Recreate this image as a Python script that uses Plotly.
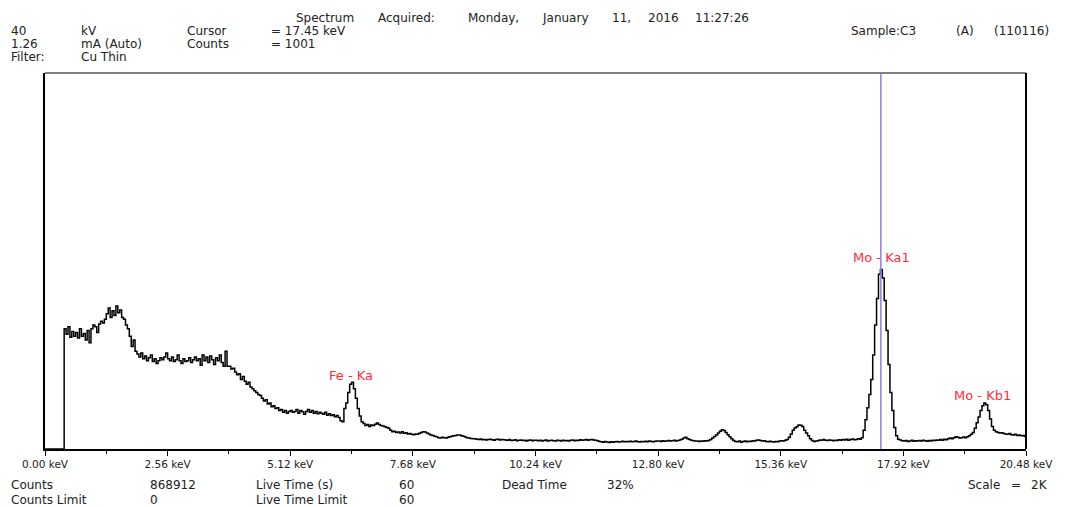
import plotly.graph_objects as go

# ---------------- data ----------------
CHANNEL_KEV = 0.04          # channel width of the spectrum
FULL_SCALE_KEV = 20.48
Y_FULL_SCALE = 2000         # "Scale = 2K"

COUNTS = [
    0, 0, 0, 0, 0, 0, 0, 0, 0, 0, 640, 610, 650, 595, 625, 600,
    620, 590, 640, 600, 615, 580, 630, 565, 640, 660, 650, 620, 665, 680, 670, 690,
    720, 750, 700, 735, 710, 760, 725, 740, 700, 690, 660, 640, 600, 545, 580, 520,
    505, 490, 510, 480, 495, 470, 485, 500, 465, 480, 455, 470, 485, 475, 490, 510,
    480, 470, 490, 465, 475, 500, 470, 455, 480, 465, 470, 485, 460, 475, 490, 470,
    480, 445, 500, 470, 490, 460, 495, 475, 450, 485, 470, 500, 460, 440, 520, 440,
    440, 425, 430, 410, 395, 400, 370, 385, 360, 345, 355, 330, 320, 310, 300, 290,
    285, 270, 255, 262, 240, 245, 225, 230, 215, 220, 205, 210, 195, 205, 190, 200,
    205, 195, 200, 210, 190, 205, 198, 185, 200, 210, 195, 205, 190, 200, 188, 195,
    190, 185, 195, 180, 188, 178, 182, 172, 178, 168, 150, 145, 215, 245, 300, 345,
    355, 320, 270, 215, 175, 145, 135, 125, 130, 120, 128, 125, 132, 138, 130, 125,
    122, 118, 115, 110, 100, 92, 95, 88, 90, 85, 92, 84, 86, 80, 82, 78,
    76, 80, 78, 84, 88, 92, 90, 85, 80, 74, 72, 68, 65, 60, 58, 62,
    60, 58, 62, 65, 68, 70, 72, 75, 74, 70, 68, 64, 60, 58, 56, 55,
    54, 52, 50, 53, 49, 51, 48, 50, 52, 49, 47, 50, 52, 48, 50, 49,
    48, 46, 50, 45, 47, 49, 44, 46, 48, 45, 47, 43, 46, 48, 44, 47,
    46, 44, 47, 42, 45, 48, 43, 45, 47, 44, 42, 46, 45, 43, 47, 44,
    45, 43, 46, 48, 44, 47, 45, 49, 46, 48, 50, 47, 49, 51, 48, 46,
    44, 40, 38, 36, 40, 37, 35, 39, 36, 38, 40, 37, 39, 41, 38, 40,
    39, 41, 38, 40, 42, 39, 37, 40, 38, 41, 39, 42, 40, 38, 41, 43,
    42, 40, 44, 41, 43, 45, 42, 44, 46, 43, 45, 48, 52, 58, 62, 55,
    50, 46, 44, 42, 43, 40, 42, 41, 44, 42, 45, 50, 58, 66, 75, 85,
    95, 102, 98, 88, 76, 65, 55, 45, 40, 38, 42, 36, 40, 43, 38, 41,
    40, 44, 42, 46, 48, 45, 42, 44, 40, 38, 41, 39, 37, 40, 38, 42,
    44, 42, 46, 50, 62, 80, 100, 112, 118, 128, 126, 120, 100, 85, 70, 55,
    45, 40, 42, 44, 48, 46, 50, 47, 45, 48, 46, 44, 47, 45, 49, 46,
    50, 48, 52, 47, 50, 53, 49, 51, 55, 52, 60, 100, 155, 220, 290, 370,
    500, 660, 800, 930, 955, 910, 790, 630, 450, 300, 205, 115, 70, 52, 48, 44,
    42, 45, 40, 43, 46, 41, 44, 42, 45, 43, 47, 44, 41, 45, 43, 46,
    45, 48, 46, 50, 47, 52, 49, 55, 58, 54, 60, 65, 62, 58, 60, 64,
    60, 65, 70, 78, 88, 110, 140, 170, 205, 230, 245, 235, 205, 160, 120, 100,
    92, 88, 85, 86, 82, 80, 78, 82, 76, 75, 78, 72, 74, 70, 72, 68,
]

TICK_KEV = [0.00, 2.56, 5.12, 7.68, 10.24, 12.80, 15.36, 17.92, 20.48]
TICK_LABELS = ["0.00 keV", "2.56 keV", "5.12 keV", "7.68 keV", "10.24 keV",
               "12.80 keV", "15.36 keV", "17.92 keV", "20.48 keV"]
MINOR_TICK_KEV = [1.28, 3.84, 6.40, 8.96, 11.52, 14.08, 16.64, 19.20]

PEAK_NAMES = ["Fe - Ka", "Mo - Ka1", "Mo - Kb1"]
PEAK_KEV = [6.38, 17.46, 19.58]
CURSOR_KEV = 17.45

HEADER_TEXT = ["Spectrum", "Acquired:", "Monday,", "January", "11,", "2016", "11:27:26",
               "40", "kV", "Cursor", "= 17.45 keV", "Sample:C3", "(A)", "(110116)",
               "1.26", "mA (Auto)", "Counts", "= 1001",
               "Filter:", "Cu Thin"]
FOOTER_TEXT = ["Counts", "868912", "Live Time (s)", "60", "Dead Time", "32%",
               "Scale", "=", "2K",
               "Counts Limit", "0", "Live Time Limit", "60"]

# ---------------- layout constants (pixels) ----------------
W, H = 1067, 507
PL, PR, PT, PB = 45, 1026, 73, 449

HEADER_POS = [(295, 18), (377, 18), (467, 18), (541, 18), (611, 18), (647, 18), (694, 18),
              (10, 31), (80, 31), (186, 31), (270, 31), (850, 31), (955, 31), (993, 31),
              (10, 44), (80, 44), (186, 44), (270, 44),
              (10, 57.5), (80, 57.5)]
FOOTER_POS = [(10, 485), (149, 485), (255, 485), (398, 485), (501, 485), (606, 485),
              (967, 485), (1010, 485), (1030, 485),
              (10, 500), (149, 500), (255, 500), (398, 500)]
PEAK_LABEL_Y = [390, 1016, 287]


def px_to_paper(x, y):
    return (x - PL) / (PR - PL), (PB - y) / (PB - PT)


energies = [i * CHANNEL_KEV for i in range(len(COUNTS))] + [FULL_SCALE_KEV]
values = COUNTS + [COUNTS[-1]]

fig = go.Figure()
fig.add_trace(go.Scatter(
    x=energies, y=values, mode="lines", line_shape="hv",
    line=dict(color="black", width=1.5), hoverinfo="x+y", showlegend=False,
))

TEXT_FONT = dict(family="DejaVu Sans", size=12, color="#222222")
annotations = []
for txt, (x, y) in zip(HEADER_TEXT + FOOTER_TEXT, HEADER_POS + FOOTER_POS):
    px, py = px_to_paper(x, y)
    annotations.append(dict(text=txt, x=px, y=py, xref="paper", yref="paper",
                            xanchor="left", yanchor="middle", showarrow=False,
                            font=TEXT_FONT, borderpad=0))

for name, kev, ly in zip(PEAK_NAMES, PEAK_KEV, PEAK_LABEL_Y):
    annotations.append(dict(text=name, x=kev, y=ly, xref="x", yref="y",
                            xanchor="center", yanchor="middle", showarrow=False,
                            font=dict(family="DejaVu Sans", size=13, color="rgb(255,45,60)"),
                            borderpad=0))

shapes = [
    dict(type="line", xref="x", yref="paper", x0=CURSOR_KEV, x1=CURSOR_KEV, y0=0, y1=1,
         line=dict(color="rgb(130,130,235)", width=1.5), layer="above"),
    dict(type="line", xref="paper", yref="paper", x0=0, x1=1, y0=1, y1=1,
         line=dict(color="rgb(128,128,128)", width=2)),
    dict(type="line", xref="paper", yref="paper", x0=1, x1=1, y0=0, y1=1,
         line=dict(color="black", width=2)),
]

fig.update_layout(
    width=W, height=H, autosize=False,
    margin=dict(l=PL, r=W - PR, t=PT, b=H - PB, pad=0),
    paper_bgcolor="white", plot_bgcolor="white",
    annotations=annotations, shapes=shapes,
    xaxis=dict(
        range=[0, FULL_SCALE_KEV], tickmode="array", tickvals=TICK_KEV, ticktext=TICK_LABELS,
        ticks="outside", ticklen=5, tickwidth=1.3, tickcolor="black",
        showline=True, linecolor="black", linewidth=1.5, showgrid=False, zeroline=False,
        tickfont=dict(family="DejaVu Sans", size=10.5, color="#222222"),
        minor=dict(tickmode="array", tickvals=MINOR_TICK_KEV, ticks="outside",
                   ticklen=3, tickwidth=1, tickcolor="black", showgrid=False),
        fixedrange=True,
    ),
    yaxis=dict(
        range=[0, Y_FULL_SCALE], showticklabels=False, ticks="", showgrid=False,
        zeroline=False, showline=True, linecolor="black", linewidth=1.5, fixedrange=True,
    ),
)

fig.write_html(
    "out.html",
    config={"displayModeBar": False},
    post_script="document.body.style.margin='0px';document.body.style.overflow='hidden';",
)
